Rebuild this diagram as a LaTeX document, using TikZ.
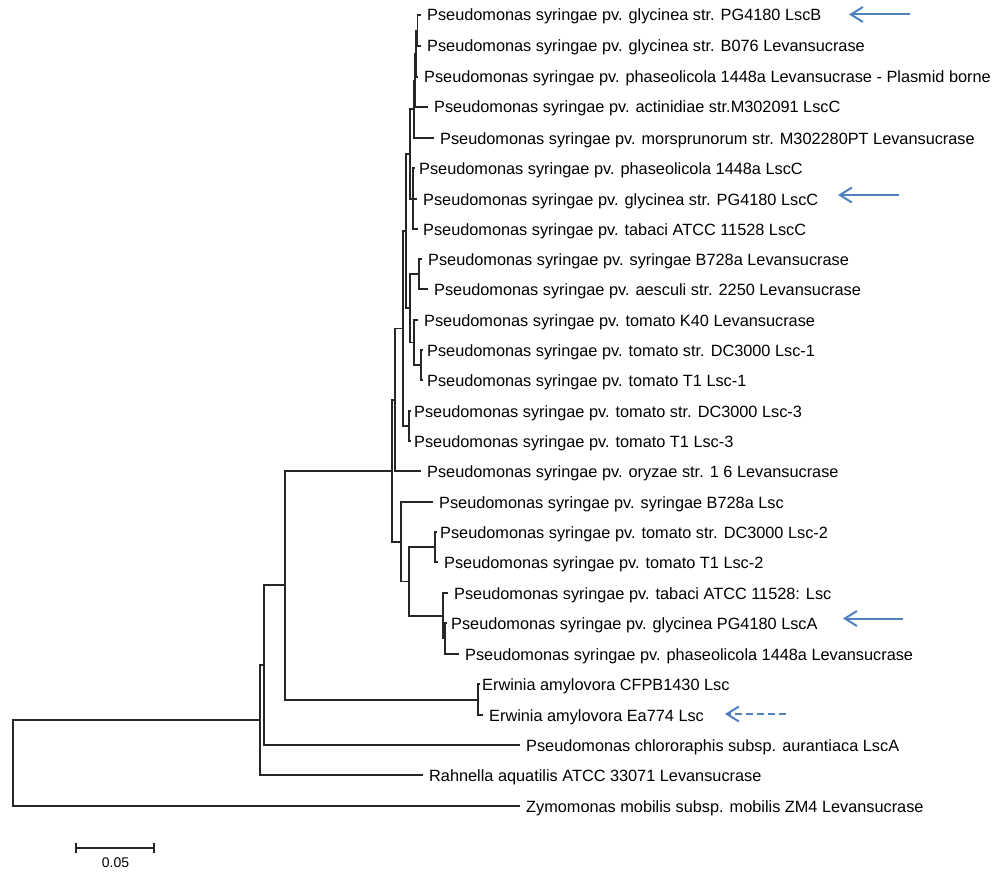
\documentclass[tikz,border=0pt]{standalone}
\usepackage{fontspec}
\setmainfont{Liberation Sans}
\usetikzlibrary{arrows.meta}
\definecolor{arrowblue}{RGB}{79,129,189}
\begin{document}
\begin{tikzpicture}[x=1pt,y=-1pt,
  branch/.style={draw=black!85, line width=1.4pt},
  lab/.style={anchor=base west, inner sep=0pt, font=\fontsize{16.3}{19}\selectfont},
  hilite/.style={draw=arrowblue, line width=2pt, -{Straight Barb[length=12pt,width=15pt]}},
  dhilite/.style={hilite, dash pattern=on 7pt off 4pt},
  scalelab/.style={anchor=base, inner sep=0pt, font=\fontsize{14}{16}\selectfont}]
\useasboundingbox (0,0) rectangle (1000,880);
% leaves: index / y / line end x / text x / text
\foreach \i/\y/\xe/\xt/\txt in {
 1/15/421/427/Pseudomonas syringae pv. glycinea str. PG4180 LscB,
 2/46/421/427/Pseudomonas syringae pv. glycinea str. B076 Levansucrase,
 3/77/418/424/Pseudomonas syringae pv. phaseolicola 1448a Levansucrase - Plasmid borne,
 4/107/428/434/Pseudomonas syringae pv. actinidiae str.M302091 LscC,
 5/138/434/440/Pseudomonas syringae pv. morsprunorum str. M302280PT Levansucrase,
 6/168/414.5/419/Pseudomonas syringae pv. phaseolicola 1448a LscC,
 7/199/417/423/Pseudomonas syringae pv. glycinea str. PG4180 LscC,
 8/229/418/423/Pseudomonas syringae pv. tabaci ATCC 11528 LscC,
 9/259/422/428/Pseudomonas syringae pv. syringae B728a Levansucrase,
 10/289/428/434/Pseudomonas syringae pv. aesculi str. 2250 Levansucrase,
 11/320/418/424/Pseudomonas syringae pv. tomato K40 Levansucrase,
 12/350/422.5/427/Pseudomonas syringae pv. tomato str. DC3000 Lsc-1,
 13/380/422.5/427/Pseudomonas syringae pv. tomato T1 Lsc-1,
 14/411/410.5/414/Pseudomonas syringae pv. tomato str. DC3000 Lsc-3,
 15/441/410.5/414/Pseudomonas syringae pv. tomato T1 Lsc-3,
 16/471/421/427/Pseudomonas syringae pv. oryzae str. 1 6 Levansucrase,
 17/502/433/439/Pseudomonas syringae pv. syringae B728a Lsc,
 18/532/436.5/440/Pseudomonas syringae pv. tomato str. DC3000 Lsc-2,
 19/562/438/444/Pseudomonas syringae pv. tomato T1 Lsc-2,
 20/593/448/454/Pseudomonas syringae pv. tabaci ATCC 11528: Lsc,
 21/623/446.5/451/Pseudomonas syringae pv. glycinea PG4180 LscA,
 22/654/459/465/Pseudomonas syringae pv. phaseolicola 1448a Levansucrase,
 23/684/479.5/482/Erwinia amylovora CFPB1430 Lsc,
 24/715/483/489/Erwinia amylovora Ea774 Lsc,
 25/745/520/526/Pseudomonas chlororaphis subsp. aurantiaca LscA,
 26/775/423/429/Rahnella aquatilis ATCC 33071 Levansucrase,
 27/806/520/526/Zymomonas mobilis subsp. mobilis ZM4 Levansucrase}
{
  \coordinate (e\i) at (\xe,\y);
  \node[lab] (t\i) at (\xt,\y+6) {\txt};
}
% internal nodes
\coordinate (nA) at (417.5,30.5);
\coordinate (nB) at (416,54);
\coordinate (nC) at (415,80.5);
\coordinate (nD) at (414,109);
\coordinate (nF) at (413,199);
\coordinate (nE) at (410,154);
\coordinate (ng) at (419,274);
\coordinate (ni) at (421,365);
\coordinate (nh) at (414,342.5);
\coordinate (nj) at (410,308);
\coordinate (nG) at (406,231);
\coordinate (nP) at (409,426);
\coordinate (nH) at (403,328.5);
\coordinate (nI) at (395,400);
\coordinate (nM) at (435,547);
\coordinate (nO) at (445,638.5);
\coordinate (nN) at (443,616);
\coordinate (nL) at (409,581.5);
\coordinate (nK) at (401,542);
\coordinate (nJ) at (392,471);
\coordinate (nEr) at (478,700);
\coordinate (nCn) at (285,585);
\coordinate (nBn) at (264,665);
\coordinate (nAn) at (260,720);
\coordinate (nR) at (13,763);
% branches: parent / child
\foreach \p/\c in {nA/e1, nA/e2, nB/nA, nB/e3, nC/nB, nC/e4, nD/nC, nD/e5,
  nF/e6, nF/e7, nF/e8, nE/nD, nE/nF,
  ng/e9, ng/e10, ni/e12, ni/e13, nh/e11, nh/ni, nj/ng, nj/nh,
  nG/nE, nG/nj, nP/e14, nP/e15, nH/nG, nH/nP, nI/nH, nI/e16,
  nM/e18, nM/e19, nO/e21, nO/e22, nN/e20, nN/nO, nL/nM, nL/nN,
  nK/e17, nK/nL, nJ/nI, nJ/nK, nEr/e23, nEr/e24,
  nCn/nJ, nCn/nEr, nBn/nCn, nBn/e25, nAn/nBn, nAn/e26, nR/nAn, nR/e27}
{ \draw[branch] (\p) |- (\c); }
% marker arrows
\coordinate (a1s) at (910,14.5);  \coordinate (a1e) at (849,14.5);
\coordinate (a2s) at (899,195);   \coordinate (a2e) at (838,195);
\coordinate (a3s) at (903,618.5); \coordinate (a3e) at (843,618.5);
\coordinate (a4s) at (786,714);   \coordinate (a4e) at (725,714);
\draw[hilite] (a1s) -- (a1e);
\draw[hilite] (a2s) -- (a2e);
\draw[hilite] (a3s) -- (a3e);
\draw[dhilite] (a4s) -- (a4e);
% scale bar
\coordinate (s1) at (76,848);
\coordinate (s2) at (154,848);
\draw[branch] (s1) -- (s2);
\draw[branch] ([yshift=-5pt]s1) -- ([yshift=5pt]s1);
\draw[branch] ([yshift=-5pt]s2) -- ([yshift=5pt]s2);
\node[scalelab] (sl) at (115.5,867) {0.05};
\end{tikzpicture}
\end{document}
